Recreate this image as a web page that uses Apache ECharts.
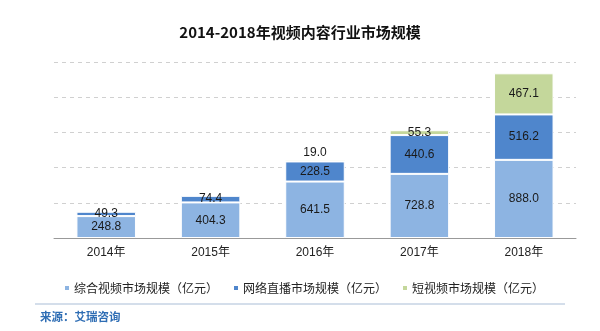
<!DOCTYPE html>
<html><head><meta charset="utf-8">
<script src="https://cdn.jsdelivr.net/npm/echarts@6/dist/echarts.min.js"></script>
<style>html,body{margin:0;padding:0;background:#fff}#c{width:600px;height:331px}</style>
</head><body><div id="c"></div>
<script>
const categories = ['2014年','2015年','2016年','2017年','2018年'];
const seriesNames = ['综合视频市场规模（亿元）','网络直播市场规模（亿元）','短视频市场规模（亿元）'];
const comprehensive = [248.8, 404.3, 641.5, 728.8, 888.0];
const live = [49.3, 74.4, 228.5, 440.6, 516.2];
const shortVideo = [null, null, 19.0, 55.3, 467.1];
const colors = ['#8DB4E2','#4F86CC','#C4D79B'];
const titleText = '2014-2018年视频内容行业市场规模';
const sourceText = '来源：艾瑞咨询';

const chart = echarts.init(document.getElementById('c'));
const font = '"Noto Sans CJK SC", "Liberation Sans", sans-serif';
function mk(name, data, color, smallTop){
  return {
    name, type:'bar', stack:'t', barWidth:'57%',
    itemStyle:{color, borderColor:'#fff', borderWidth:1},
    label:{show:true, position:'inside', color:'#1a1a1a', fontSize:12, fontFamily:'"Liberation Sans", Arial, sans-serif',
      formatter:p=>p.value==null?'':p.value.toFixed(1)},
    data: data.map((v,i)=>{
      if(smallTop && v!=null && v<30) return {value:v,label:{position:'top',distance:1}};
      return v;
    })
  };
}
chart.setOption({
  animation:false,
  title:{text:titleText,left:'center',top:20,textStyle:{fontSize:15,fontWeight:'bold',color:'#111',fontFamily:font}},
  grid:{left:54,right:24,top:62,bottom:93},
  xAxis:{type:'category',data:categories,
    axisLine:{lineStyle:{color:'#999'}},axisTick:{show:false},
    axisLabel:{color:'#222',fontSize:12,margin:9,fontFamily:'"Liberation Sans", "Noto Sans CJK SC", sans-serif'}},
  yAxis:{type:'value',min:0,max:2000,interval:400,axisLabel:{show:false},
    axisLine:{show:false},axisTick:{show:false},
    splitLine:{lineStyle:{type:[4,4],color:'#d0d0d0'}}},
  legend:{left:58,top:277,width:540,itemWidth:6,itemHeight:6,itemGap:14,icon:'rect',
    textStyle:{fontSize:12,color:'#222',fontFamily:font,padding:[0,0,0,-1]},data:seriesNames},
  graphic:[
    {type:'line',shape:{x1:35,y1:304,x2:565,y2:304},style:{stroke:'#a9bdd6',lineWidth:1}},
    {type:'text',left:40,top:311,style:{text:sourceText,fill:'#2E6DB4',font:'bold 11.5px '+font}}
  ],
  series:[mk(seriesNames[0],comprehensive,colors[0]),mk(seriesNames[1],live,colors[1]),mk(seriesNames[2],shortVideo,colors[2],true)]
});
</script></body></html>
